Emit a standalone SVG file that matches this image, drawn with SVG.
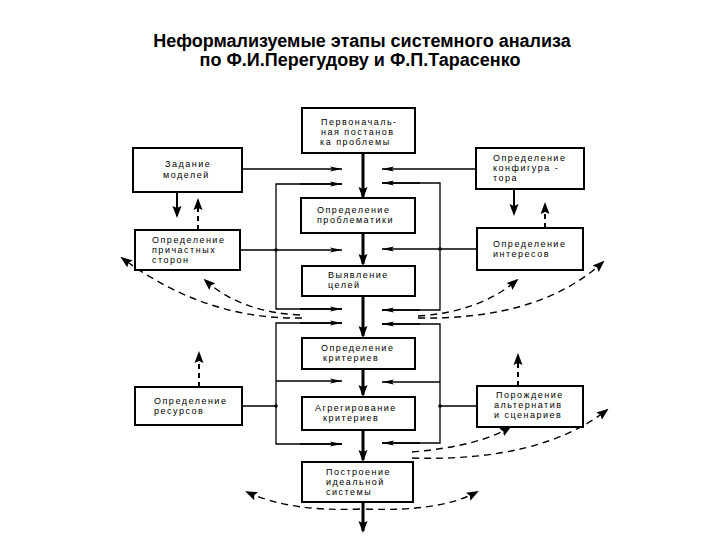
<svg xmlns="http://www.w3.org/2000/svg" width="720" height="540" viewBox="0 0 720 540">
<style>
.title{font-family:"Liberation Sans",Arial,sans-serif;font-size:18px;font-weight:bold;fill:#000;text-anchor:middle}
.t{font-family:"Liberation Sans",Arial,sans-serif;font-size:9px;letter-spacing:1.5px;fill:#000}
.box{fill:#fff;stroke:#000;stroke-width:2}
.ln{fill:none;stroke:#000;stroke-width:1.3}
.th{fill:none;stroke:#000;stroke-width:3}
.ds{fill:none;stroke:#000;stroke-width:1.4;stroke-dasharray:7 5}
</style>
<defs>
<marker id="ah" viewBox="0 0 12 6" refX="12" refY="3" markerWidth="12" markerHeight="6" markerUnits="userSpaceOnUse" orient="auto"><path d="M0,0.4 L12,3 L0,5.6 L2.5,3 Z" fill="#000"/></marker>
<marker id="ahb" viewBox="0 0 12 10" refX="10" refY="5" markerWidth="12" markerHeight="10" markerUnits="userSpaceOnUse" orient="auto"><path d="M0,0.5 L12,5 L0,9.5 L2,5 Z" fill="#000"/></marker>
</defs>
<rect width="720" height="540" fill="#fff"/>
<text class="title" x="362" y="47">Неформализуемые этапы системного анализа</text>
<text class="title" x="360" y="66">по Ф.И.Перегудову и Ф.П.Тарасенко</text>

<g id="connectors">
<line class="th" x1="363" y1="153" x2="363" y2="197" marker-end="url(#ahb)"/>
<line class="th" x1="363" y1="233" x2="363" y2="264" marker-end="url(#ahb)"/>
<line class="th" x1="363" y1="296" x2="363" y2="336" marker-end="url(#ahb)"/>
<line class="th" x1="363" y1="369" x2="363" y2="395" marker-end="url(#ahb)"/>
<line class="th" x1="363" y1="430" x2="363" y2="460" marker-end="url(#ahb)"/>
<line class="th" x1="363" y1="502" x2="363" y2="531" marker-end="url(#ahb)"/>
<line class="ln" x1="242" y1="169" x2="342" y2="169" marker-end="url(#ah)"/>
<polyline class="ln" points="342,184 276,184 276,309 342,309"/>
<line class="ln" x1="300" y1="184" x2="342" y2="184" marker-end="url(#ah)"/>
<line class="ln" x1="300" y1="309" x2="342" y2="309" marker-end="url(#ah)"/>
<line class="ln" x1="240" y1="250" x2="342" y2="250" marker-end="url(#ah)"/>
<polyline class="ln" points="342,323 276,323 276,444 342,444"/>
<line class="ln" x1="300" y1="323" x2="342" y2="323" marker-end="url(#ah)"/>
<line class="ln" x1="300" y1="444" x2="342" y2="444" marker-end="url(#ah)"/>
<line class="ln" x1="276" y1="381" x2="342" y2="381" marker-end="url(#ah)"/>
<line class="ln" x1="242" y1="406" x2="276" y2="406"/>
<circle cx="276" cy="250" r="1.8" fill="#000"/>
<circle cx="276" cy="406" r="1.8" fill="#000"/>
<line class="ln" x1="476" y1="169" x2="382" y2="169" marker-end="url(#ah)"/>
<polyline class="ln" points="382,183 440,183 440,310 382,310"/>
<line class="ln" x1="420" y1="183" x2="382" y2="183" marker-end="url(#ah)"/>
<line class="ln" x1="420" y1="310" x2="382" y2="310" marker-end="url(#ah)"/>
<line class="ln" x1="477" y1="249" x2="382" y2="249" marker-end="url(#ah)"/>
<polyline class="ln" points="382,324 440,324 440,443 382,443"/>
<line class="ln" x1="420" y1="324" x2="382" y2="324" marker-end="url(#ah)"/>
<line class="ln" x1="420" y1="443" x2="382" y2="443" marker-end="url(#ah)"/>
<line class="ln" x1="440" y1="382" x2="382" y2="382" marker-end="url(#ah)"/>
<line class="ln" x1="477" y1="406" x2="440" y2="406"/>
<circle cx="440" cy="249" r="1.8" fill="#000"/>
<circle cx="440" cy="406" r="1.8" fill="#000"/>
<line class="th" style="stroke-width:2" x1="177" y1="192" x2="177" y2="216" marker-end="url(#ahb)"/>
<line class="ds" style="stroke-width:2;stroke-dasharray:5 4" x1="198" y1="230" x2="198" y2="200" marker-end="url(#ahb)"/>
<line class="th" style="stroke-width:2" x1="514" y1="189" x2="514" y2="214" marker-end="url(#ahb)"/>
<line class="ds" style="stroke-width:2;stroke-dasharray:5 4" x1="545" y1="228" x2="545" y2="204" marker-end="url(#ahb)"/>
<line class="ds" style="stroke-width:2;stroke-dasharray:5 4" x1="199" y1="387" x2="199" y2="353" marker-end="url(#ahb)"/>
<line class="ds" style="stroke-width:2;stroke-dasharray:5 4" x1="518" y1="386" x2="518" y2="355" marker-end="url(#ahb)"/>
<path class="ds" d="M302,318 Q205,320 122,258" marker-end="url(#ahb)"/>
<path class="ds" d="M300,315 Q240,312 205,280" marker-end="url(#ahb)"/>
<path class="ds" d="M418,316 Q480,312 517,280" marker-end="url(#ahb)"/>
<path class="ds" d="M418,318 Q540,320 603,262" marker-end="url(#ahb)"/>
<path class="ds" d="M412,452 Q480,446 510,427" marker-end="url(#ahb)"/>
<path class="ds" d="M412,458 Q540,462 607,410" marker-end="url(#ahb)"/>
<path class="ds" d="M360,509 Q290,512 247,492" marker-end="url(#ahb)"/>
<path class="ds" d="M366,509 Q440,512 477,492" marker-end="url(#ahb)"/>
</g>

<g id="n1"><rect class="box" x="302" y="108" width="113" height="45"/>
<text class="t" x="321" y="125">Первоначаль-</text><text class="t" x="321" y="135">ная постанов</text><text class="t" x="320" y="145">ка проблемы</text></g>
<g id="n2"><rect class="box" x="301" y="198" width="114" height="35"/>
<text class="t" x="317" y="213">Определение</text><text class="t" x="317" y="223">проблематики</text></g>
<g id="n3"><rect class="box" x="302" y="266" width="113" height="30"/>
<text class="t" x="328" y="278">Выявление</text><text class="t" x="328" y="288">целей</text></g>
<g id="n4"><rect class="box" x="302" y="338" width="113" height="31"/>
<text class="t" x="321" y="351">Определение</text><text class="t" x="323" y="361">критериев</text></g>
<g id="n5"><rect class="box" x="302" y="397" width="113" height="33"/>
<text class="t" x="315" y="411">Агрегирование</text><text class="t" x="323" y="421">критериев</text></g>
<g id="n6"><rect class="box" x="302" y="462" width="111" height="40"/>
<text class="t" x="326" y="475">Построение</text><text class="t" x="326" y="485">идеальной</text><text class="t" x="326" y="495">системы</text></g>

<g id="n7"><rect class="box" x="133" y="148" width="109" height="44"/>
<text class="t" x="165" y="167">Задание</text><text class="t" x="163" y="178">моделей</text></g>
<g id="n8"><rect class="box" x="135" y="230" width="105" height="40"/>
<text class="t" x="152" y="243">Определение</text><text class="t" x="152" y="253">причастных</text><text class="t" x="152" y="263">сторон</text></g>
<g id="n9"><rect class="box" x="135" y="387" width="107" height="38"/>
<text class="t" x="154" y="404">Определение</text><text class="t" x="154" y="414">ресурсов</text></g>
<g id="n10"><rect class="box" x="476" y="148" width="108" height="41"/>
<text class="t" x="493" y="161">Определение</text><text class="t" x="493" y="171">конфигура -</text><text class="t" x="493" y="181">тора</text></g>
<g id="n11"><rect class="box" x="477" y="228" width="106" height="42"/>
<text class="t" x="493" y="247">Определение</text><text class="t" x="493" y="257">интересов</text></g>
<g id="n12"><rect class="box" x="477" y="386" width="106" height="41"/>
<text class="t" x="496" y="398">Порождение</text><text class="t" x="494" y="408">альтернатив</text><text class="t" x="494" y="418">и сценариев</text></g>
</svg>
